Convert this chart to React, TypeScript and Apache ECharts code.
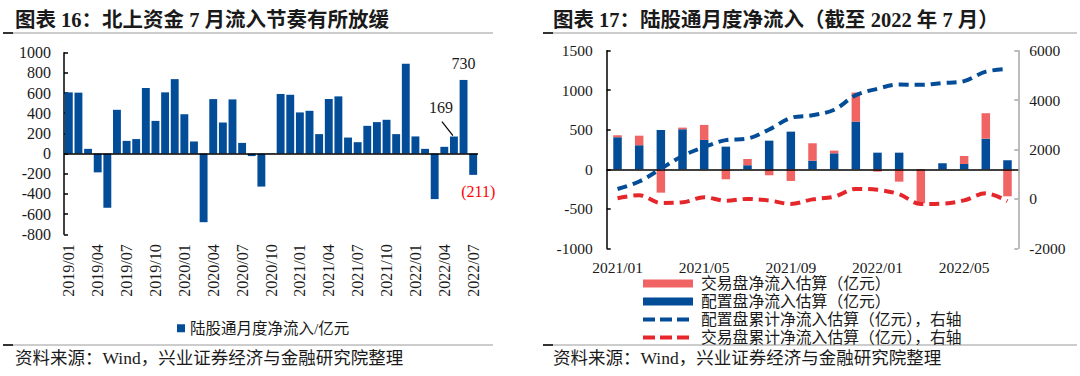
import React, { useEffect, useRef } from "react";
import * as echarts from "echarts";

const FONT = "'Liberation Serif', 'Noto Sans CJK SC', serif";

// ---------- Left chart: 北上资金 monthly net inflow ----------
const leftCategories = [
  "2019/01", "2019/02", "2019/03", "2019/04", "2019/05", "2019/06", "2019/07", "2019/08", "2019/09", "2019/10", "2019/11", "2019/12",
  "2020/01", "2020/02", "2020/03", "2020/04", "2020/05", "2020/06", "2020/07", "2020/08", "2020/09", "2020/10", "2020/11", "2020/12",
  "2021/01", "2021/02", "2021/03", "2021/04", "2021/05", "2021/06", "2021/07", "2021/08", "2021/09", "2021/10", "2021/11", "2021/12",
  "2022/01", "2022/02", "2022/03", "2022/04", "2022/05", "2022/06", "2022/07",
];
const leftValues = [
  607, 604, 47, -186, -537, 434, 126, 144, 650, 324, 607, 738,
  390, 120, -680, 540, 308, 537, 106, -25, -327, 3, 591, 583,
  408, 424, 193, 541, 567, 159, 113, 275, 312, 335, 193, 890,
  170, 47, -451, 67, 169, 730, -211,
];
const leftSeriesName = "陆股通月度净流入/亿元";
const leftYMin = -800;
const leftYMax = 1000;
const leftYStep = 200;

// ---------- Right chart: 陆股通 split ----------
const rightCategories = [
  "2021/01", "2021/02", "2021/03", "2021/04", "2021/05", "2021/06", "2021/07", "2021/08", "2021/09", "2021/10", "2021/11", "2021/12",
  "2022/01", "2022/02", "2022/03", "2022/04", "2022/05", "2022/06", "2022/07",
];
const rightNames = ["交易盘净流入估算（亿元）", "配置盘净流入估算（亿元）", "配置盘累计净流入估算（亿元），右轴", "交易盘累计净流入估算（亿元），右轴"];
const allocBars = [405, 304, 497, 506, 371, 286, 51, 362, 476, 109, 202, 603, 210, 210, 0, 76, 67, 387, 114];
const tradeBars = [25, 121, -296, 21, 190, -127, 79, -76, -148, 220, 34, 367, -30, -157, -430, 0, 101, 322, -342];
const allocCum = [400, 705, 1220, 1740, 2100, 2380, 2440, 2810, 3280, 3385, 3610, 4200, 4460, 4630, 4620, 4690, 4770, 5150, 5260];
const tradeCum = [28, 150, -165, -140, 65, -75, 0, -65, -205, -20, 90, 405, 370, 190, -205, -190, -60, 225, -90];
const rightLeftMin = -1000;
const rightLeftMax = 1500;
const rightLeftStep = 500;
const rightRightMin = -2000;
const rightRightMax = 6000;
const rightRightStep = 2000;

const leftTitle = "图表 16：北上资金 7 月流入节奏有所放缓";
const rightTitle = "图表 17：陆股通月度净流入（截至 2022 年 7 月）";
const sourceText = "资料来源：Wind，兴业证券经济与金融研究院整理";

const BLUE = "#034C97";
const RED_BAR = "#F06464";
const RED_LINE = "#E5262B";
const TEXT = "#1a1a1a";

export default function App() {
  const ref = useRef<HTMLDivElement>(null);

  useEffect(() => {
    if (!ref.current) return;
    const chart = echarts.init(ref.current, undefined, { renderer: "svg" });
    const iLabel169 = leftValues.length - 3;

    const leftData = leftValues.map((v, i) => {
      if (i === iLabel169) {
        return {
          value: v,
          label: { show: true, position: "top", distance: 5, offset: [-13, -16], formatter: "{c}", color: TEXT, fontSize: 16, fontFamily: FONT },
        };
      }
      if (i === leftValues.length - 2) {
        return {
          value: v,
          label: { show: true, position: "top", distance: 8, formatter: "{c}", color: TEXT, fontSize: 16, fontFamily: FONT },
        };
      }
      if (i === leftValues.length - 1) {
        return {
          value: v,
          label: {
            show: true, position: "bottom", distance: 9, offset: [5, 0],
            formatter: (p: any) => "(" + Math.abs(p.value) + ")",
            color: "#FF0000", fontSize: 16, fontFamily: FONT,
          },
        };
      }
      return v;
    });

    const zeroLine = (color = "#000") => ({
      silent: true,
      symbol: ["none", "none"],
      label: { show: false },
      lineStyle: { color, width: 1.5, type: "solid" },
      data: [{ yAxis: 0 }],
    });

    const lineText = (x: number, y: number, text: string, size: number, bold = false, color = TEXT) => ({
      type: "text",
      x,
      y,
      style: { text, fill: color, font: `${bold ? "bold " : ""}${size}px ${FONT}`, verticalAlign: "middle", align: "left" },
    });

    const rule = (x1: number, x2: number, y: number) => [
      { type: "line", shape: { x1, y1: y, x2, y2: y }, style: { stroke: "#9a9a9a", lineWidth: 1 } },
      { type: "line", shape: { x1, y1: y, x2: x1 + 10, y2: y }, style: { stroke: "#333", lineWidth: 2 } },
    ];

    const legendX = 643;
    const legendRows = [283.5, 301.5, 319.5, 337.5];
    const plain = (v: number) => String(v);

    const graphics: any[] = [
      lineText(15, 20, leftTitle, 20.5, true),
      lineText(553, 20, rightTitle, 20.5, true),
      ...rule(3, 493, 33),
      ...rule(543, 1077, 33),
      ...rule(3, 493, 345),
      ...rule(543, 1077, 345),
      lineText(15, 358, sourceText, 17.5),
      lineText(553, 358, sourceText, 17.5),
      { type: "rect", shape: { x: legendX, y: legendRows[0] - 4, width: 50, height: 8 }, style: { fill: RED_BAR } },
      { type: "rect", shape: { x: legendX, y: legendRows[1] - 4, width: 50, height: 8 }, style: { fill: BLUE } },
      { type: "line", shape: { x1: legendX, y1: legendRows[2], x2: legendX + 50, y2: legendRows[2] }, style: { stroke: BLUE, lineWidth: 4, lineDash: [12, 5] } },
      { type: "line", shape: { x1: legendX, y1: legendRows[3], x2: legendX + 50, y2: legendRows[3] }, style: { stroke: RED_LINE, lineWidth: 4, lineDash: [12, 5] } },
      lineText(701, legendRows[0], rightNames[0], 15.8),
      lineText(701, legendRows[1], rightNames[1], 15.8),
      lineText(701, legendRows[2], rightNames[2], 15.8),
      lineText(701, legendRows[3], rightNames[3], 15.8),
    ];

    const option: any = {
      animation: false,
      backgroundColor: "#fff",
      textStyle: { fontFamily: FONT },
      grid: [
        { left: 64, top: 52.7, width: 414, height: 181.6, outerBoundsMode: "none" },
        { left: 606.7, top: 50.7, width: 411.6, height: 197.6, outerBoundsMode: "none" },
      ],
      xAxis: [
        {
          type: "category", gridIndex: 0, data: leftCategories, position: "bottom",
          axisLine: { show: false, onZero: false }, axisTick: { show: false },
          axisLabel: { interval: 2, rotate: 90, margin: 10, fontSize: 16, color: TEXT, fontFamily: FONT },
        },
        {
          type: "category", gridIndex: 1, data: rightCategories, position: "bottom",
          axisLine: { show: false, onZero: false }, axisTick: { show: false },
          axisLabel: { interval: 3, margin: 11, fontSize: 15.5, color: TEXT, fontFamily: FONT },
        },
      ],
      yAxis: [
        {
          type: "value", gridIndex: 0, min: leftYMin, max: leftYMax, interval: leftYStep,
          axisLine: { show: true, lineStyle: { color: "#000", width: 1.5 } },
          axisTick: { show: true, inside: true, length: 4, lineStyle: { color: "#000", width: 1.5 } },
          splitLine: { show: false },
          axisLabel: { fontSize: 16, margin: 13, color: TEXT, fontFamily: FONT, formatter: plain },
        },
        {
          type: "value", gridIndex: 1, min: rightLeftMin, max: rightLeftMax, interval: rightLeftStep,
          axisLine: { show: true, lineStyle: { color: "#000", width: 1.5 } },
          axisTick: { show: true, inside: true, length: 4, lineStyle: { color: "#000", width: 1.5 } },
          splitLine: { show: false },
          axisLabel: { fontSize: 15.5, margin: 14, color: TEXT, fontFamily: FONT, formatter: plain },
        },
        {
          type: "value", gridIndex: 1, position: "right", min: rightRightMin, max: rightRightMax, interval: rightRightStep,
          axisLine: { show: true, lineStyle: { color: "#a6a6a6", width: 1.5 } },
          axisTick: { show: true, inside: true, length: 4, lineStyle: { color: "#a6a6a6", width: 1.5 } },
          splitLine: { show: false },
          axisLabel: { fontSize: 15.5, margin: 11, color: TEXT, fontFamily: FONT, formatter: plain },
        },
      ],
      legend: [
        {
          data: [leftSeriesName], left: 172, top: 315.5, icon: "rect", itemWidth: 8, itemHeight: 8,
          textStyle: { fontSize: 15.5, color: TEXT, fontFamily: FONT },
          selectedMode: false,
        },
      ],
      series: [
        {
          name: leftSeriesName, type: "bar", xAxisIndex: 0, yAxisIndex: 0,
          data: leftData, barWidth: "82%",
          itemStyle: { color: BLUE },
          markLine: zeroLine(),
          z: 2,
        },
        {
          name: rightNames[1], type: "bar", xAxisIndex: 1, yAxisIndex: 1, stack: "r",
          data: allocBars, barWidth: 8.5, itemStyle: { color: BLUE },
          markLine: zeroLine(),
        },
        {
          name: rightNames[0], type: "bar", xAxisIndex: 1, yAxisIndex: 1, stack: "r",
          data: tradeBars, barWidth: 8.5, itemStyle: { color: RED_BAR },
        },
        {
          name: rightNames[2], type: "line", xAxisIndex: 1, yAxisIndex: 2, data: allocCum,
          smooth: 0.35, symbol: "none",
          lineStyle: { color: BLUE, width: 4, type: [10, 6] }, z: 5,
        },
        {
          name: rightNames[3], type: "line", xAxisIndex: 1, yAxisIndex: 2, data: tradeCum,
          smooth: 0.35, symbol: "none",
          lineStyle: { color: RED_LINE, width: 4, type: [10, 6] }, z: 5,
        },
      ],
      graphic: graphics,
    };

    chart.setOption(option);

    // leader line from the "169" label to its bar, positioned through the axis scales
    const top = chart.convertToPixel({ xAxisIndex: 0, yAxisIndex: 0 }, [iLabel169, leftValues[iLabel169]]) as number[];
    if (top && isFinite(top[0]) && isFinite(top[1])) {
      chart.setOption({
        graphic: [
          ...graphics,
          {
            type: "line",
            shape: { x1: top[0] - 1, y1: top[1] - 1, x2: top[0] - 12, y2: top[1] - 15 },
            style: { stroke: "#000", lineWidth: 1.2 },
          },
        ],
      });
    }

    return () => chart.dispose();
  }, []);

  return (
    <div
      ref={ref}
      style={{ position: "fixed", left: 0, top: 0, width: 1080, height: 376, background: "#fff" }}
    />
  );
}
